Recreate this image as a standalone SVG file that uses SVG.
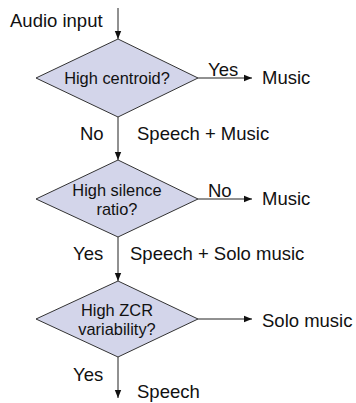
<svg xmlns="http://www.w3.org/2000/svg" width="356" height="403" viewBox="0 0 356 403">
<style>
.d{fill:#d3d5ea;stroke:#333;stroke-width:1}
.l{fill:none;stroke:#222;stroke-width:1}
.t{font-family:"Liberation Sans",Arial,sans-serif;font-size:18.5px;fill:#111}
.s{font-family:"Liberation Sans",Arial,sans-serif;font-size:16.4px;fill:#111;text-anchor:middle}
</style>
<defs>
<marker id="a" viewBox="0 0 8 8" refX="8" refY="4" markerWidth="8" markerHeight="8" markerUnits="userSpaceOnUse" orient="auto">
<path d="M0,0.8 L8,4 L0,7.2 z" fill="#111"/>
</marker>
</defs>
<rect width="356" height="403" fill="#fff"/>
<g id="connectors">
<line class="l" x1="118" y1="8" x2="118" y2="39" marker-end="url(#a)"/>
<line class="l" x1="198" y1="78" x2="252" y2="78" marker-end="url(#a)"/>
<line class="l" x1="118" y1="117" x2="118" y2="160" marker-end="url(#a)"/>
<line class="l" x1="198" y1="199" x2="252" y2="199" marker-end="url(#a)"/>
<line class="l" x1="118" y1="237" x2="118" y2="281" marker-end="url(#a)"/>
<line class="l" x1="198" y1="319" x2="252" y2="319" marker-end="url(#a)"/>
<line class="l" x1="118" y1="357" x2="118" y2="398" marker-end="url(#a)"/>
</g>
<g id="labels">
<text class="t" x="10" y="27">Audio input</text>
<text class="t" x="208" y="76">Yes</text>
<text class="t" x="262" y="84">Music</text>
<text class="t" x="80" y="140">No</text>
<text class="t" x="137" y="140">Speech + Music</text>
<text class="t" x="208" y="197">No</text>
<text class="t" x="262" y="205">Music</text>
<text class="t" x="73" y="260">Yes</text>
<text class="t" x="130" y="260">Speech + Solo music</text>
<text class="t" x="262" y="327">Solo music</text>
<text class="t" x="73" y="381">Yes</text>
<text class="t" x="137" y="398">Speech</text>
</g>
<g id="d1">
<polygon class="d" points="118,39 198,78 118,117 36,78"/>
<text class="s" x="117" y="84">High centroid?</text>
</g>
<g id="d2">
<polygon class="d" points="118,160 198,199 118,237 36,199"/>
<text class="s" x="117" y="196">High silence</text>
<text class="s" x="117" y="215">ratio?</text>
</g>
<g id="d3">
<polygon class="d" points="118,281 198,319 118,357 36,319"/>
<text class="s" x="117" y="316">High ZCR</text>
<text class="s" x="117" y="335">variability?</text>
</g>
</svg>
